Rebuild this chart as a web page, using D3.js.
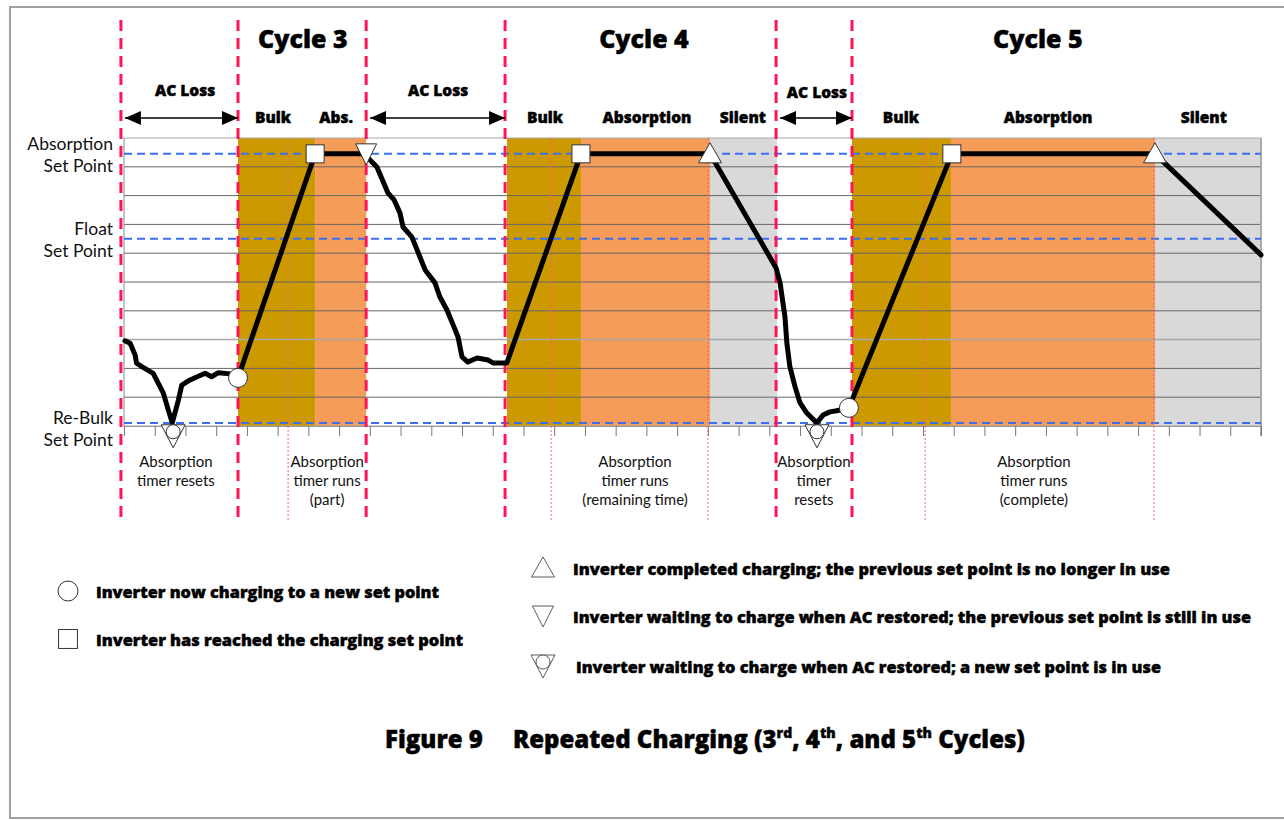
<!DOCTYPE html>
<html>
<head>
<meta charset="utf-8">
<script src="https://cdn.jsdelivr.net/npm/d3@7"></script>
<style>
body { margin: 0; background: #fff; }
svg { display: block; }
text { font-family: Lato, "DejaVu Sans", sans-serif; fill: #111; }
text.heavy { font-family: "Open Sans", Lato, sans-serif; font-weight: 800; fill: #000; stroke: #000; stroke-width: 0.45px; }
</style>
</head>
<body>
<svg id="chart" width="1284" height="820"></svg>
<script>
// ---- data (time units 0..37, level units 0..10) ----
const gridLevels = d3.range(0, 11);
const tickTimes = d3.range(0, 38);

const setPointNames = [["Absorption", "Set Point"], ["Float", "Set Point"], ["Re-Bulk", "Set Point"]];
const setPointLevels = [9.45, 6.5, 0.1];

const stageKinds = ["bulk", "abs", "bulk", "abs", "silent", "bulk", "abs", "silent"];
const stageFrom = [3.71, 6.22, 12.46, 14.87, 19.07, 23.69, 26.91, 33.55];
const stageTo = [6.22, 7.88, 14.87, 19.07, 21.25, 26.91, 33.55, 37];

const acBreaks = [-0.1, 3.71, 7.88, 12.4, 21.22, 23.69];
const timerMarks = [5.34, 13.9, 19.0, 26.07, 33.52];

const cycleNames = ["Cycle 3", "Cycle 4", "Cycle 5"];
const cycleAt = [5.82, 16.92, 29.74];
const acLossAt = [1.99, 10.22, 22.55];
const acLossSpans = [[-0.1, 3.71], [7.88, 12.4], [21.22, 23.69]];
const phaseNames = ["Bulk", "Abs.", "Bulk", "Absorption", "Silent", "Bulk", "Absorption", "Silent"];
const phaseAt = [4.85, 6.9, 13.7, 17.02, 20.14, 25.28, 30.07, 35.14];

const timerNotes = [
    ["Absorption", "timer resets"],
    ["Absorption", "timer runs", "(part)"],
    ["Absorption", "timer runs", "(remaining time)"],
    ["Absorption", "timer", "resets"],
    ["Absorption", "timer runs", "(complete)"]
];
const timerNoteAt = [1.69, 6.61, 16.63, 22.45, 29.61];

// battery voltage trace
const voltage = [
    [0.03, 2.96], [0.2, 2.87], [0.36, 2.47], [0.41, 2.18], [0.58, 2.06], [0.95, 1.83], [1.28, 1.14],
    [1.44, 0.56], [1.57, 0.11], [1.77, 0.9], [1.88, 1.42], [2.15, 1.6], [2.64, 1.83], [2.85, 1.71],
    [3.07, 1.85], [3.45, 1.81], [3.71, 1.67], [6.22, 9.45], [7.88, 9.45], [7.91, 9.34], [8.23, 8.99],
    [8.59, 8.09], [8.79, 7.85], [8.98, 7.4], [9.08, 6.91], [9.37, 6.56], [9.63, 5.87], [9.8, 5.42],
    [10.12, 4.97], [10.28, 4.48], [10.51, 4.03], [10.71, 3.51], [10.87, 3.09], [11.0, 2.4], [11.19, 2.22],
    [11.49, 2.36], [11.85, 2.29], [12.01, 2.19], [12.46, 2.19], [14.87, 9.45], [19.07, 9.45], [21.22, 5.49],
    [21.35, 4.97], [21.51, 3.78], [21.57, 2.88], [21.67, 2.05], [21.84, 1.35], [22.0, 0.8], [22.22, 0.45],
    [22.54, 0.11], [22.75, 0.38], [22.97, 0.49], [23.19, 0.53], [23.59, 0.63], [26.94, 9.45], [33.55, 9.45],
    [37, 5.94]
];

const circleMarks = [[3.71, 1.67], [23.59, 0.63]];
const squareMarks = [[6.22, 9.45], [14.87, 9.45], [26.94, 9.45]];
const upMarks = [[19.07, 9.45], [33.55, 9.45]];
const downMarks = [[7.88, 9.45]];
const resetMarks = [[1.6, -0.2], [22.55, -0.2]];

const legendLeft = ["Inverter now charging to a new set point", "Inverter has reached the charging set point"];
const legendLeftMarks = ["circle", "square"];
const legendRight = [
    "Inverter completed charging; the previous set point is no longer in use",
    "Inverter waiting to charge when AC restored; the previous set point is still in use",
    "Inverter waiting to charge when AC restored; a new set point is in use"
];
const legendRightMarks = ["up", "down", "reset"];

// ---- setup ----
const svg = d3.select("#chart");
const plot = {left: 124, right: 1261, top: 138, bottom: 426};
const x = d3.scaleLinear().domain([0, 37]).range([plot.left, plot.right]);
const y = d3.scaleLinear().domain([0, 10]).range([plot.bottom, plot.top]);
const stageColor = {bulk: "#cc9900", abs: "#f49c58", silent: "#d9d9d9"};

// outer frame
svg.append("rect").attr("x", 10).attr("y", 7).attr("width", 1300).attr("height", 811)
    .attr("fill", "none").attr("stroke", "#a0a0a0").attr("stroke-width", 2);

// stage backgrounds
svg.selectAll(".stage").data(stageKinds).enter().append("rect")
    .attr("class", "stage")
    .attr("x", (d, i) => x(stageFrom[i]))
    .attr("width", (d, i) => x(stageTo[i]) - x(stageFrom[i]))
    .attr("y", y(10)).attr("height", y(0) - y(10))
    .attr("fill", d => stageColor[d]);

// grid lines
svg.selectAll(".gridline").data(gridLevels).enter().append("line")
    .attr("class", "gridline")
    .attr("x1", plot.left).attr("x2", plot.right)
    .attr("y1", d => y(d)).attr("y2", d => y(d))
    .attr("stroke", d => (d == 3 || d == 0 || d == 10) ? "#a8a8a8" : "#666")
    .attr("stroke-width", d => d == 3 ? 1.5 : 1);
svg.append("line").attr("x1", plot.left).attr("x2", plot.left).attr("y1", plot.top).attr("y2", plot.bottom)
    .attr("stroke", "#888").attr("stroke-width", 1);
svg.append("line").attr("x1", plot.right).attr("x2", plot.right).attr("y1", plot.top).attr("y2", plot.bottom + 10)
    .attr("stroke", "#aaa").attr("stroke-width", 2);

// bottom axis ticks
const xAxis = d3.axisBottom(x).tickValues(tickTimes).tickSize(10).tickFormat("");
svg.append("g").attr("transform", "translate(0," + plot.bottom + ")").call(xAxis)
    .call(g => g.select(".domain").attr("stroke", "#999"))
    .call(g => g.selectAll(".tick line").attr("stroke", "#777"));

// set point dashed lines
svg.selectAll(".setpoint").data(setPointLevels).enter().append("line")
    .attr("class", "setpoint")
    .attr("x1", plot.left).attr("x2", plot.right)
    .attr("y1", d => y(d)).attr("y2", d => y(d))
    .attr("stroke", "#3a6ff0").attr("stroke-width", 2).attr("stroke-dasharray", "8,5");

// set point labels (the Re-Bulk one sits a little lower in the original)
setPointNames.forEach(function (lines, i) {
    let cy = y(setPointLevels[i]) + (i == 2 ? 5 : 0);
    svg.append("text").attr("x", 113).attr("y", cy - 4).attr("text-anchor", "end")
        .attr("font-size", "17.5px").text(lines[0]);
    svg.append("text").attr("x", 113).attr("y", cy + 18).attr("text-anchor", "end")
        .attr("font-size", "17.5px").text(lines[1]);
});

// timer dotted lines
svg.selectAll(".timer").data(timerMarks).enter().append("line")
    .attr("class", "timer")
    .attr("x1", d => x(d)).attr("x2", d => x(d))
    .attr("y1", plot.top).attr("y2", 522)
    .attr("stroke", "#ff5c7a").attr("stroke-width", 1).attr("stroke-dasharray", "2,2");

// AC loss boundaries
svg.selectAll(".acbreak").data(acBreaks).enter().append("line")
    .attr("class", "acbreak")
    .attr("x1", d => x(d)).attr("x2", d => x(d))
    .attr("y1", 20).attr("y2", 520)
    .attr("stroke", "#ff1456").attr("stroke-width", 3).attr("stroke-dasharray", "11,7");

// voltage trace
svg.append("path").datum(voltage)
    .attr("d", d3.line().x(d => x(d[0])).y(d => y(d[1])))
    .attr("fill", "none").attr("stroke", "#000").attr("stroke-width", 5)
    .attr("stroke-linejoin", "round").attr("stroke-linecap", "round");

// marker shapes
function drawMark(g, kind, cx, cy, k, sw) {
    let st = sw || 1;
    if (kind == "circle") {
        g.append("circle").attr("cx", cx).attr("cy", cy).attr("r", 9.5 * k)
            .attr("fill", "#fff").attr("stroke", "#333").attr("stroke-width", st);
    } else if (kind == "square") {
        g.append("rect").attr("x", cx - 9 * k).attr("y", cy - 9 * k).attr("width", 18 * k).attr("height", 18 * k)
            .attr("fill", "#fff").attr("stroke", "#333").attr("stroke-width", st);
    } else if (kind == "up") {
        g.append("path").attr("d", "M" + cx + "," + (cy - 11 * k) + "L" + (cx + 11.5 * k) + "," + (cy + 9 * k) + "L" + (cx - 11.5 * k) + "," + (cy + 9 * k) + "Z")
            .attr("fill", "#fff").attr("stroke", "#333").attr("stroke-width", st);
    } else if (kind == "down") {
        g.append("path").attr("d", "M" + (cx - 10.5 * k) + "," + (cy - 10 * k) + "L" + (cx + 10.5 * k) + "," + (cy - 10 * k) + "L" + cx + "," + (cy + 11 * k) + "Z")
            .attr("fill", "#fff").attr("stroke", "#333").attr("stroke-width", st);
    } else if (kind == "reset") {
        g.append("path").attr("d", "M" + (cx - 12 * k) + "," + (cy - 7 * k) + "L" + (cx + 12 * k) + "," + (cy - 7 * k) + "L" + cx + "," + (cy + 16 * k) + "Z")
            .attr("fill", "#fff").attr("stroke", "#333").attr("stroke-width", st);
        g.append("circle").attr("cx", cx).attr("cy", cy).attr("r", 7 * k)
            .attr("fill", "#fff").attr("stroke", "#333").attr("stroke-width", st);
    }
}

let marks = svg.append("g").attr("class", "marks");
circleMarks.forEach(d => drawMark(marks, "circle", x(d[0]), y(d[1]), 1, 1));
squareMarks.forEach(d => drawMark(marks, "square", x(d[0]), y(d[1]), 1, 1));
upMarks.forEach(d => drawMark(marks, "up", x(d[0]), y(d[1]), 1, 1));
downMarks.forEach(d => drawMark(marks, "down", x(d[0]), y(d[1]), 1, 1));
resetMarks.forEach(d => drawMark(marks, "reset", x(d[0]), y(d[1]), 1, 1));

// top labels
svg.selectAll(".cycle").data(cycleNames).enter().append("text")
    .attr("class", "cycle heavy")
    .attr("x", (d, i) => x(cycleAt[i])).attr("y", 48)
    .attr("text-anchor", "middle").attr("font-size", "25px")
    .text(d => d);
svg.selectAll(".acloss").data(acLossAt).enter().append("text")
    .attr("class", "acloss heavy")
    .attr("x", d => x(d)).attr("y", (d, i) => i == 2 ? 98 : 96)
    .attr("text-anchor", "middle").attr("font-size", "15.5px")
    .text("AC Loss");
svg.selectAll(".phase").data(phaseNames).enter().append("text")
    .attr("class", "phase heavy")
    .attr("x", (d, i) => x(phaseAt[i])).attr("y", 123)
    .attr("text-anchor", "middle").attr("font-size", "15.5px")
    .text(d => d);

// double arrows
svg.append("defs").append("marker").attr("id", "arrowHead")
    .attr("viewBox", "0 0 16 14").attr("refX", 16).attr("refY", 7)
    .attr("markerWidth", 16).attr("markerHeight", 14).attr("markerUnits", "userSpaceOnUse")
    .attr("orient", "auto-start-reverse")
    .append("path").attr("d", "M0,0 L16,7 L0,14 Z").attr("fill", "#000");
svg.selectAll(".acspan").data(acLossSpans).enter().append("line")
    .attr("class", "acspan")
    .attr("x1", d => x(d[0]) + 4).attr("x2", d => x(d[1]))
    .attr("y1", 118).attr("y2", 118)
    .attr("stroke", "#000").attr("stroke-width", 1.5)
    .attr("marker-start", "url(#arrowHead)").attr("marker-end", "url(#arrowHead)");

// timer notes under the axis
timerNotes.forEach(function (lines, i) {
    let t = svg.append("text").attr("text-anchor", "middle").attr("font-size", "15px");
    lines.forEach(function (ln, j) {
        t.append("tspan").attr("x", x(timerNoteAt[i])).attr("y", 467 + j * 19).text(ln);
    });
});

// legend (text fitted to the widths it has in the original figure)
const legendLeftWidth = [343, 367];
const legendRightWidth = [597, 678, 585];
legendLeft.forEach(function (txt, i) {
    let cy = 591 + i * 48;
    drawMark(svg, legendLeftMarks[i], 68, cy, 1.05, 1);
    svg.append("text").attr("class", "heavy").attr("x", 96).attr("y", cy + 7).attr("font-size", "16px")
        .attr("textLength", legendLeftWidth[i]).attr("lengthAdjust", "spacingAndGlyphs").text(txt);
});
legendRight.forEach(function (txt, i) {
    let cy = [568, 616, 662][i];
    let ty = [569, 617, 667][i];
    drawMark(svg, legendRightMarks[i], 543, cy, 1, 0.8);
    svg.append("text").attr("class", "heavy").attr("x", i == 2 ? 576 : 573).attr("y", ty + 6).attr("font-size", "16px")
        .attr("textLength", legendRightWidth[i]).attr("lengthAdjust", "spacingAndGlyphs").text(txt);
});

// caption
let cap = svg.append("text").attr("class", "heavy").attr("x", 705).attr("y", 748).attr("text-anchor", "middle")
    .attr("font-size", "24px");
cap.append("tspan").text("Figure 9\u2003 Repeated Charging (3");
cap.append("tspan").attr("font-size", "14px").attr("dy", -10).text("rd");
cap.append("tspan").attr("dy", 10).text(", 4");
cap.append("tspan").attr("font-size", "14px").attr("dy", -10).text("th");
cap.append("tspan").attr("dy", 10).text(", and 5");
cap.append("tspan").attr("font-size", "14px").attr("dy", -10).text("th");
cap.append("tspan").attr("dy", 10).text(" Cycles)");
</script>
</body>
</html>
